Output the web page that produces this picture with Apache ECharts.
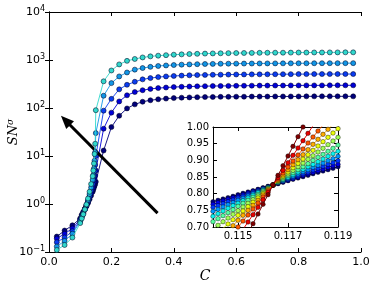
<!DOCTYPE html>
<html>
<head>
<meta charset="utf-8">
<script src="https://cdn.jsdelivr.net/npm/echarts@6/dist/echarts.min.js"></script>
<style>
html,body{margin:0;padding:0;background:#fff;}
#c{width:374px;height:289px;}
</style>
</head>
<body>
<div id="c"></div>
<script>
// ---- main plot data ----
const C = [0.025, 0.05, 0.075, 0.1, 0.105, 0.11, 0.115, 0.12, 0.125, 0.13, 0.135, 0.14, 0.142, 0.144, 0.146, 0.148, 0.15,
  0.175, 0.2, 0.225, 0.25, 0.275, 0.3, 0.325, 0.35, 0.375, 0.4, 0.425, 0.45, 0.475, 0.5, 0.525, 0.55, 0.575, 0.6,
  0.625, 0.65, 0.675, 0.7, 0.725, 0.75, 0.775, 0.8, 0.825, 0.85, 0.875, 0.9, 0.925, 0.95, 0.975];

const main0 = [0.21, 0.28, 0.36, 0.50, 0.60, 0.69, 0.79, 0.90, 1.05, 1.25, 1.5, 1.8, 2.0, 2.2, 2.4, 2.6, 2.9,
  13, 40, 69, 98, 119, 135, 145, 152, 157, 161, 164, 166, 168, 169, 170, 171, 171, 172, 172, 173, 173, 173, 174, 174,
  174, 174, 175, 175, 175, 175, 175, 175, 175];
const main1 = [0.19, 0.24, 0.31, 0.48, 0.57, 0.67, 0.79, 0.91, 1.1, 1.35, 1.7, 2.2, 2.5, 2.9, 3.3, 3.9, 5,
  37, 80, 137, 184, 215, 235, 250, 260, 267, 273, 277, 280, 283, 285, 287, 288, 289, 290, 291, 292,
  293, 293, 294, 294, 295, 295, 296, 296, 296, 297, 297, 297, 297];
const main2 = [0.16, 0.20, 0.27, 0.45, 0.55, 0.65, 0.78, 0.93, 1.15, 1.45, 1.9, 2.6, 3.1, 3.8, 4.8, 6.5, 10,
  88, 155, 245, 305, 352, 395, 420, 440, 455, 465, 473, 480, 485, 489, 492, 495, 497, 499, 500, 502,
  503, 504, 505, 506, 507, 508, 508, 509, 509, 510, 510, 510, 510];
const main3 = [0.13, 0.17, 0.24, 0.43, 0.53, 0.63, 0.78, 0.95, 1.2, 1.6, 2.2, 3.2, 4, 5.5, 8, 12, 30,
  180, 330, 455, 550, 630, 680, 720, 750, 770, 785, 800, 810, 818, 825, 830, 835, 838, 840, 843, 845,
  847, 849, 850, 852, 853, 854, 855, 856, 857, 858, 859, 860, 860];
const main4 = [0.11, 0.14, 0.20, 0.40, 0.50, 0.61, 0.77, 0.98, 1.3, 1.8, 2.6, 3.8, 5, 7, 11, 18, 90,
  360, 605, 810, 960, 1050, 1130, 1190, 1230, 1260, 1290, 1310, 1330, 1345, 1360, 1370, 1380, 1390, 1395, 1400, 1405,
  1410, 1415, 1420, 1420, 1425, 1430, 1430, 1435, 1435, 1440, 1440, 1445, 1445];
const mainSeries = [main0, main1, main2, main3, main4];

// arrow annotation (data coords: tail -> head)
const arrowFrom = [0.348, 0.645];
const arrowTo = [0.053, 55];

// ---- inset data ----
const insetC = [0.1140, 0.1142, 0.1144, 0.1146, 0.1148, 0.1150, 0.1152, 0.1154, 0.1156, 0.1158, 0.1160, 0.1162, 0.1164,
  0.1166, 0.1168, 0.1170, 0.1172, 0.1174, 0.1176, 0.1178, 0.1180, 0.1182, 0.1184, 0.1186, 0.1188, 0.1190];
const ins0 = [0.776, 0.780, 0.784, 0.788, 0.792, 0.797, 0.801, 0.805, 0.809, 0.813, 0.818, 0.822, 0.826, 0.830, 0.834, 0.839, 0.843, 0.847, 0.851, 0.855, 0.860, 0.864, 0.868, 0.872, 0.876, 0.881];
const ins1 = [0.768, 0.773, 0.778, 0.783, 0.788, 0.792, 0.797, 0.802, 0.807, 0.812, 0.816, 0.821, 0.826, 0.831, 0.836, 0.840, 0.845, 0.850, 0.855, 0.860, 0.864, 0.869, 0.874, 0.879, 0.884, 0.888];
const ins2 = [0.759, 0.764, 0.770, 0.776, 0.781, 0.787, 0.792, 0.798, 0.804, 0.809, 0.815, 0.820, 0.826, 0.832, 0.837, 0.843, 0.848, 0.854, 0.860, 0.865, 0.871, 0.876, 0.882, 0.888, 0.893, 0.899];
const ins3 = [0.747, 0.753, 0.760, 0.767, 0.773, 0.780, 0.786, 0.793, 0.800, 0.806, 0.813, 0.819, 0.826, 0.833, 0.839, 0.846, 0.852, 0.859, 0.866, 0.872, 0.879, 0.885, 0.892, 0.899, 0.905, 0.912];
const ins4 = [0.732, 0.740, 0.748, 0.756, 0.764, 0.771, 0.779, 0.787, 0.795, 0.803, 0.810, 0.818, 0.826, 0.834, 0.842, 0.849, 0.857, 0.865, 0.873, 0.881, 0.888, 0.896, 0.904, 0.912, 0.920, 0.927];
const ins5 = [0.716, 0.725, 0.734, 0.743, 0.752, 0.762, 0.771, 0.780, 0.789, 0.798, 0.808, 0.817, 0.826, 0.835, 0.844, 0.854, 0.863, 0.872, 0.881, 0.890, 0.900, 0.909, 0.918, 0.927, 0.936, 0.946];
const ins6 = [0.694, 0.705, 0.716, 0.727, 0.738, 0.749, 0.760, 0.771, 0.782, 0.793, 0.804, 0.815, 0.826, 0.837, 0.848, 0.859, 0.870, 0.881, 0.892, 0.903, 0.914, 0.925, 0.936, 0.947, 0.958, 0.969];
const ins7 = [0.670, 0.683, 0.696, 0.709, 0.722, 0.735, 0.748, 0.761, 0.774, 0.787, 0.800, 0.813, 0.826, 0.839, 0.852, 0.865, 0.878, 0.891, 0.904, 0.917, 0.930, 0.943, 0.956, 0.969, 0.982, 0.995];
const ins8 = [0.644, 0.659, 0.674, 0.689, 0.704, 0.720, 0.735, 0.750, 0.765, 0.780, 0.796, 0.811, 0.826, 0.841, 0.856, 0.872, 0.887, 0.902, 0.917, 0.932, 0.948, 0.963, 0.978, 0.993, 1.008, 1.024];
const ins9 = [0.610, 0.628, 0.646, 0.664, 0.682, 0.700, 0.718, 0.736, 0.754, 0.772, 0.790, 0.808, 0.826, 0.844, 0.862, 0.880, 0.898, 0.916, 0.934, 0.952, 0.970, 0.988, 1.006, 1.024, 1.042, 1.060];
const ins10 = [0.560, 0.582, 0.604, 0.626, 0.648, 0.671, 0.693, 0.715, 0.737, 0.759, 0.782, 0.804, 0.826, 0.848, 0.870, 0.893, 0.915, 0.937, 0.959, 0.981, 1.004, 1.026, 1.048, 1.070, 1.092, 1.115];
const ins11 = [0.478, 0.507, 0.536, 0.565, 0.594, 0.623, 0.652, 0.681, 0.710, 0.739, 0.768, 0.797, 0.826, 0.855, 0.884, 0.913, 0.942, 0.971, 1.000, 1.029, 1.058, 1.087, 1.116, 1.145, 1.174, 1.203];
const insetSeries = [ins0, ins1, ins2, ins3, ins4, ins5, ins6, ins7, ins8, ins9, ins10, ins11];

// tick labels
const insetXTicks = [0.115, 0.117, 0.119];

// jet colormap colours (12 steps)
const jet = ['#000080', '#0000e9', '#003aff', '#0097ff', '#0bf3ec', '#56ffa1',
  '#a1ff56', '#ecff0b', '#ffad00', '#ff5700', '#e90000', '#800000'];
const mainCol = ['#00007a', '#0000d8', '#0a3cf0', '#1296e6', '#30d8cc'];

const FONT = 'DejaVu Sans';
const axisLineS = {show: true, lineStyle: {color: '#000', width: 1}};

function baseX(grid, pos, min, max, extra) {
  return Object.assign({
    type: 'value', gridIndex: grid, position: pos, min: min, max: max,
    axisLine: axisLineS,
    axisTick: {show: true, inside: true, length: 4, lineStyle: {color: '#000'}},
    axisLabel: {show: false},
    splitLine: {show: false}
  }, extra || {});
}

const yLogFmt = function (v) {
  const e = Math.round(Math.log10(v));
  return '{b|10}{s|' + (e < 0 ? '\u2212' + (-e) : e) + '}';
};

const series = [];
mainSeries.forEach(function (vals, i) {
  const s = {
    type: 'line', xAxisIndex: 0, yAxisIndex: 0,
    data: C.map(function (c, j) { return [c, vals[j]]; }),
    symbol: 'circle', symbolSize: 5, showSymbol: true,
    lineStyle: {color: mainCol[i], width: 1, opacity: 0.9},
    itemStyle: {color: mainCol[i], borderColor: 'rgba(0,0,30,0.75)', borderWidth: 0.7},
    emphasis: {disabled: true}, silent: true, clip: true, z: 2 + i
  };
  if (i === mainSeries.length - 1) {
    s.markLine = {
      silent: true, animation: false,
      symbol: ['none', 'triangle'], symbolSize: [11, 13],
      label: {show: false},
      lineStyle: {color: '#000', width: 3, type: 'solid'},
      itemStyle: {color: '#000'},
      emphasis: {disabled: true},
      data: [[{coord: arrowFrom}, {coord: arrowTo}]]
    };
  }
  series.push(s);
});
insetSeries.forEach(function (vals, i) {
  series.push({
    type: 'line', xAxisIndex: 2, yAxisIndex: 2,
    data: insetC.map(function (c, j) { return [c, vals[j]]; }),
    symbol: 'circle', symbolSize: 4.5, showSymbol: true,
    lineStyle: {color: jet[i], width: 1},
    itemStyle: {color: jet[i], borderColor: 'rgba(0,0,0,0.7)', borderWidth: 0.6},
    emphasis: {disabled: true}, silent: true, clip: true, z: 20 + i
  });
});

const option = {
  animation: false,
  backgroundColor: '#fff',
  grid: [
    {left: 49, right: 13, top: 12, bottom: 37, containLabel: false, outerBoundsMode: 'none'},
    {left: 213, right: 36, top: 127, bottom: 62, containLabel: false, outerBoundsMode: 'none',
      show: true, backgroundColor: '#fff', borderWidth: 0, z: 10}
  ],
  xAxis: [
    baseX(0, 'bottom', 0, 1, {
      interval: 0.2,
      axisLabel: {show: true, fontFamily: FONT, fontSize: 11, color: '#000', margin: 5,
        formatter: function (v) { return v.toFixed(1); }},
      name: 'C', nameLocation: 'middle', nameGap: 17, nameMoveOverlap: false,
      nameTextStyle: {fontFamily: 'DejaVu Serif', fontStyle: 'italic', fontSize: 14, color: '#000'}
    }),
    baseX(0, 'top', 0, 1, {interval: 0.2}),
    baseX(1, 'bottom', 0.114, 0.119, {
      axisTick: {show: true, inside: true, length: 4, lineStyle: {color: '#000'}, customValues: insetXTicks},
      axisLabel: {show: true, fontFamily: FONT, fontSize: 10, color: '#000', margin: 4,
        customValues: insetXTicks, formatter: function (v) { return v.toFixed(3); }},
      z: 11
    }),
    baseX(1, 'top', 0.114, 0.119, {
      axisTick: {show: true, inside: true, length: 4, lineStyle: {color: '#000'}, customValues: insetXTicks},
      z: 11
    })
  ],
  yAxis: [
    {type: 'log', logBase: 10, gridIndex: 0, position: 'left', min: 0.1, max: 10000,
      axisLine: axisLineS,
      axisTick: {show: true, inside: true, length: 4, lineStyle: {color: '#000'}},
      splitLine: {show: false},
      axisLabel: {show: true, fontFamily: FONT, fontSize: 11, color: '#000', margin: 4, formatter: yLogFmt,
        rich: {b: {fontFamily: FONT, fontSize: 11, color: '#000'},
               s: {fontFamily: FONT, fontSize: 8, color: '#000', padding: [0, 0, 7, 0]}}},
      name: 'SN{s|\u03c3}', nameLocation: 'middle', nameGap: 27, nameRotate: 90, nameMoveOverlap: false,
      nameTextStyle: {fontFamily: 'DejaVu Serif', fontStyle: 'italic', fontSize: 13, color: '#000',
        rich: {s: {fontFamily: 'DejaVu Serif', fontStyle: 'italic', fontSize: 9, color: '#000', padding: [0, 0, 7, 0]}}}
    },
    {type: 'log', logBase: 10, gridIndex: 0, position: 'right', min: 0.1, max: 10000,
      axisLine: axisLineS,
      axisTick: {show: true, inside: true, length: 4, lineStyle: {color: '#000'}},
      splitLine: {show: false}, axisLabel: {show: false}},
    {type: 'value', gridIndex: 1, position: 'left', min: 0.7, max: 1.0, interval: 0.05,
      axisLine: axisLineS,
      axisTick: {show: true, inside: true, length: 4, lineStyle: {color: '#000'}},
      splitLine: {show: false}, z: 11,
      axisLabel: {show: true, fontFamily: FONT, fontSize: 10, color: '#000', margin: 4,
        formatter: function (v) { return v.toFixed(2); }}},
    {type: 'value', gridIndex: 1, position: 'right', min: 0.7, max: 1.0, interval: 0.05,
      axisLine: axisLineS,
      axisTick: {show: true, inside: true, length: 4, lineStyle: {color: '#000'}},
      splitLine: {show: false}, axisLabel: {show: false}, z: 11}
  ],
  series: series
};

const chart = echarts.init(document.getElementById('c'), null, {renderer: 'canvas'});
chart.setOption(option);
</script>
</body>
</html>
